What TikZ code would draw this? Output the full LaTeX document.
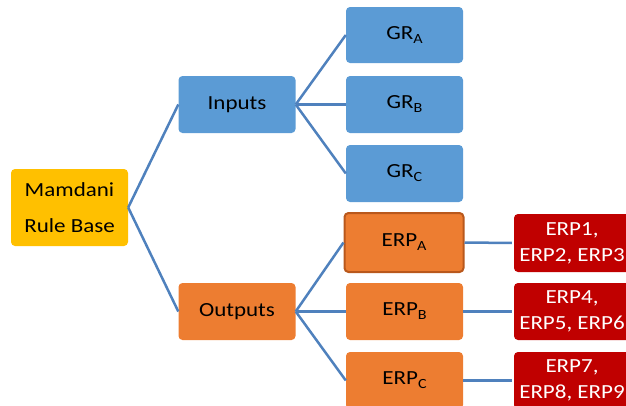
\documentclass[tikz,border=0pt]{standalone}
\usepackage{fontspec}
\setmainfont{Carlito}[FakeStretch=1.15]
\usetikzlibrary{positioning}
\definecolor{rootfill}{HTML}{FFC000}
\definecolor{infill}{HTML}{5B9BD5}
\definecolor{outfill}{HTML}{ED7D31}
\definecolor{outedge}{HTML}{B9581C}
\definecolor{erpfill}{HTML}{C00000}
\definecolor{linkblue}{HTML}{4F81BD}
\newcommand{\subidx}[1]{\raisebox{-4pt}{\fontsize{14}{14}\selectfont #1}}
\tikzset{
  box/.style={rounded corners=4pt,inner sep=0pt,align=center,
              font=\fontsize{20}{26}\selectfont},
  rootbox/.style={box,fill=rootfill,minimum width=117pt,minimum height=77pt,
                  font=\fontsize{20}{35.6}\selectfont},
  inbox/.style={box,fill=infill,minimum width=117pt,minimum height=57pt},
  outbox/.style={box,fill=outfill,minimum width=117pt,minimum height=57pt},
  erpbox/.style={box,fill=erpfill,text=white,minimum width=116pt,minimum height=57pt},
  wire/.style={draw=linkblue,line width=2.5pt}
}

\begin{document}
\begin{tikzpicture}[x=1pt,y=-1pt]
  \useasboundingbox (0,0) rectangle (626,405);
  \clip (0,0) rectangle (626,405);

  \node[rootbox] (root) at (69.5,207.5) {Mamdani\\Rule Base};

  \node[inbox]  (inputs)  at (237,104.5) {Inputs};
  \node[outbox] (outputs) at (237,311.5) {Outputs};

  % input variables
  \node[inbox,minimum height=56pt] (grA) at (404.5,35)    {GR\subidx{A}};
  \node[inbox] (grB) at (404.5,104.5) {GR\subidx{B}};
  \node[inbox] (grC) at (404.5,173.5) {GR\subidx{C}};

  % output variables
  \node[outbox,draw=outedge,line width=2pt,minimum width=119pt,minimum height=59pt]
        (erpA) at (404,242.5) {ERP\subidx{A}};
  \node[outbox] (erpB) at (404.5,311.5) {ERP\subidx{B}};
  \node[outbox] (erpC) at (404.5,380.5) {ERP\subidx{C}};

  \node[erpbox,minimum height=58pt] (resA) at (572,243) {ERP1,\\ERP2, ERP3};
  \node[erpbox] (resB) at (572,311.5) {ERP4,\\ERP5, ERP6};
  \node[erpbox] (resC) at (572,380.5) {ERP7,\\ERP8, ERP9};

  \draw[wire] (root.east) -- (inputs.west);
  \draw[wire] (root.east) -- (outputs.west);
  \foreach \g in {grA,grB,grC}
    \draw[wire] (inputs.east) -- (\g.west);
  \foreach \e in {erpA,erpB,erpC}
    \draw[wire] (outputs.east) -- (\e.west);
  \foreach \e/\r in {erpA/resA,erpB/resB,erpC/resC}
    \draw[wire,shorten >=2pt] (\e.east) -- (\r.west);
\end{tikzpicture}
\end{document}
